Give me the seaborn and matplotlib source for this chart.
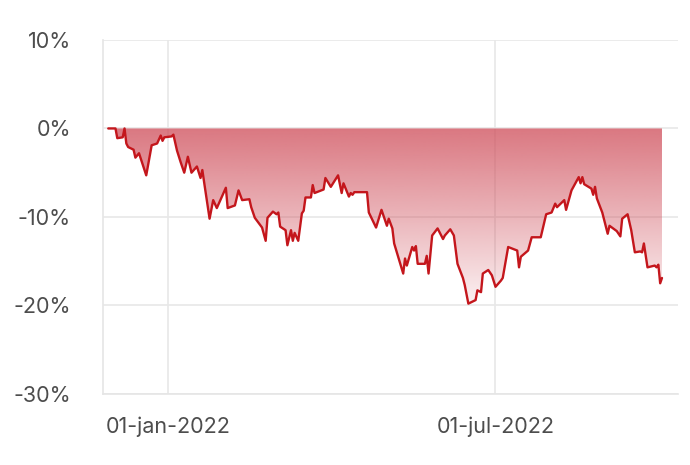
import numpy as np
import pandas as pd
import seaborn as sns
import matplotlib.pyplot as plt
import matplotlib.dates as mdates
from matplotlib.colors import to_rgb

# drawdown series (percent)
dates = [
    '2021-11-29', '2021-12-03', '2021-12-04', '2021-12-07', '2021-12-08', '2021-12-09',
    '2021-12-10', '2021-12-13', '2021-12-14', '2021-12-16', '2021-12-20', '2021-12-23',
    '2021-12-26', '2021-12-28', '2021-12-29', '2021-12-30', '2022-01-03', '2022-01-04',
    '2022-01-06', '2022-01-08', '2022-01-10', '2022-01-12', '2022-01-14', '2022-01-17',
    '2022-01-19', '2022-01-20', '2022-01-21', '2022-01-24', '2022-01-26', '2022-01-28',
    '2022-02-02', '2022-02-03', '2022-02-07', '2022-02-09', '2022-02-11', '2022-02-15',
    '2022-02-16', '2022-02-18', '2022-02-22', '2022-02-24', '2022-02-25', '2022-02-28',
    '2022-03-02', '2022-03-03', '2022-03-04', '2022-03-07', '2022-03-08', '2022-03-10',
    '2022-03-11', '2022-03-12', '2022-03-14', '2022-03-16', '2022-03-17', '2022-03-18',
    '2022-03-21', '2022-03-22', '2022-03-23', '2022-03-28', '2022-03-29', '2022-04-01',
    '2022-04-05', '2022-04-07', '2022-04-08', '2022-04-11', '2022-04-12', '2022-04-13',
    '2022-04-14', '2022-04-21', '2022-04-22', '2022-04-26', '2022-04-29', '2022-05-02',
    '2022-05-03', '2022-05-05', '2022-05-06', '2022-05-11', '2022-05-12', '2022-05-13',
    '2022-05-16', '2022-05-17', '2022-05-18', '2022-05-19', '2022-05-23', '2022-05-24',
    '2022-05-25', '2022-05-27', '2022-05-30', '2022-06-02', '2022-06-03', '2022-06-06',
    '2022-06-08', '2022-06-10', '2022-06-13', '2022-06-14', '2022-06-16', '2022-06-20',
    '2022-06-21', '2022-06-23', '2022-06-24', '2022-06-27', '2022-06-29', '2022-07-01',
    '2022-07-04', '2022-07-05', '2022-07-08', '2022-07-13', '2022-07-14', '2022-07-15',
    '2022-07-19', '2022-07-21', '2022-07-26', '2022-07-29', '2022-08-01', '2022-08-03',
    '2022-08-04', '2022-08-08', '2022-08-09', '2022-08-12', '2022-08-16', '2022-08-17',
    '2022-08-18', '2022-08-19', '2022-08-23', '2022-08-24', '2022-08-25', '2022-08-26',
    '2022-08-29', '2022-09-01', '2022-09-02', '2022-09-06', '2022-09-08', '2022-09-09',
    '2022-09-12', '2022-09-14', '2022-09-16', '2022-09-19', '2022-09-20', '2022-09-21',
    '2022-09-23', '2022-09-27', '2022-09-28', '2022-09-29', '2022-09-30', '2022-10-01',
]
drawdown = [
    0.0, 0.0, -1.1, -1.0, 0.0, -1.7,
    -2.1, -2.4, -3.3, -2.8, -5.3, -1.9,
    -1.7, -0.8, -1.4, -1.0, -0.9, -0.7,
    -2.5, -3.8, -5.0, -3.2, -5.0, -4.3,
    -5.6, -4.7, -6.1, -10.2, -8.1, -9.0,
    -6.7, -9.0, -8.7, -7.0, -8.1, -8.0,
    -8.9, -10.1, -11.2, -12.7, -10.1, -9.4,
    -9.7, -9.5, -11.1, -11.5, -13.2, -11.5,
    -12.7, -11.8, -12.7, -9.6, -9.3, -7.8,
    -7.8, -6.4, -7.3, -6.9, -5.6, -6.6,
    -5.3, -7.3, -6.2, -7.7, -7.3, -7.5,
    -7.2, -7.2, -9.5, -11.2, -9.2, -11.0,
    -10.2, -11.3, -13.0, -16.4, -14.7, -15.5,
    -13.4, -13.8, -13.3, -15.3, -15.3, -14.4,
    -16.4, -12.1, -11.3, -12.5, -12.1, -11.4,
    -12.1, -15.3, -16.9, -17.7, -19.8, -19.4,
    -18.3, -18.5, -16.4, -16.0, -16.6, -17.9,
    -17.2, -16.9, -13.4, -13.8, -15.7, -14.5,
    -13.8, -12.3, -12.3, -9.7, -9.5, -8.5,
    -8.9, -8.1, -9.2, -7.0, -5.5, -6.2,
    -5.5, -6.3, -6.8, -7.5, -6.6, -7.9,
    -9.5, -11.9, -11.0, -11.6, -12.2, -10.2,
    -9.7, -11.5, -14.0, -13.9, -14.0, -13.0,
    -15.7, -15.5, -15.7, -15.4, -17.5, -16.9,
]
tick_dates = ['2022-01-01', '2022-07-01']
tick_labels = ['01-jan-2022', '01-jul-2022']
y_ticks = [10, 0, -10, -20, -30]

df = pd.DataFrame({'date': pd.to_datetime(dates), 'drawdown': drawdown})

sns.set_theme(style='white')
plt.rcParams['font.family'] = ['Inter', 'DejaVu Sans']

fig, ax = plt.subplots(figsize=(6.9, 4.65), dpi=100)
fig.subplots_adjust(left=0.149, right=0.983, top=0.914, bottom=0.153)

x = mdates.date2num(df['date'])
y = df['drawdown'].to_numpy()

# gradient fill under zero, clipped to the area between the curve and 0
fill = ax.fill_between(x, y, 0, color='none', lw=0)
grad = np.zeros((200, 1, 4))
grad[..., :3] = to_rgb('#d0515d')
grad[..., 3] = np.linspace(0.78, 0.08, 200)[:, None]
img = ax.imshow(grad, aspect='auto', origin='upper', zorder=1,
                extent=[x.min(), x.max(), y.min(), 0])
img.set_clip_path(fill.get_paths()[0], transform=ax.transData)

sns.lineplot(data=df, x='date', y='drawdown', color='#c4161c', lw=1.7, ax=ax, zorder=3)

ax.set_xlim(mdates.date2num(pd.Timestamp('2021-11-26')),
            mdates.date2num(pd.Timestamp('2022-10-10')))
ax.set_ylim(-30, 10)
ax.set_aspect('auto')

ax.set_xticks(mdates.date2num(pd.to_datetime(tick_dates)))
ax.set_xticklabels(tick_labels)
ax.set_yticks(y_ticks)
ax.set_yticklabels([f'{v}%' for v in y_ticks])

ax.grid(True, color='#e8e8e8', lw=1.2, zorder=0)
ax.set_axisbelow(True)
for side in ['top', 'right']:
    ax.spines[side].set_visible(False)
for side in ['left', 'bottom']:
    ax.spines[side].set_color('#e5e5e5')
    ax.spines[side].set_linewidth(1.2)

ax.tick_params(axis='x', length=10, width=1.2, color='#e8e8e8', pad=6,
               labelsize=15.5, labelcolor='#4d4d4d')
ax.tick_params(axis='y', length=0, pad=23, labelsize=15.5, labelcolor='#4d4d4d')
ax.set_xlabel('')
ax.set_ylabel('')

fig.savefig('out.png', dpi=100)
